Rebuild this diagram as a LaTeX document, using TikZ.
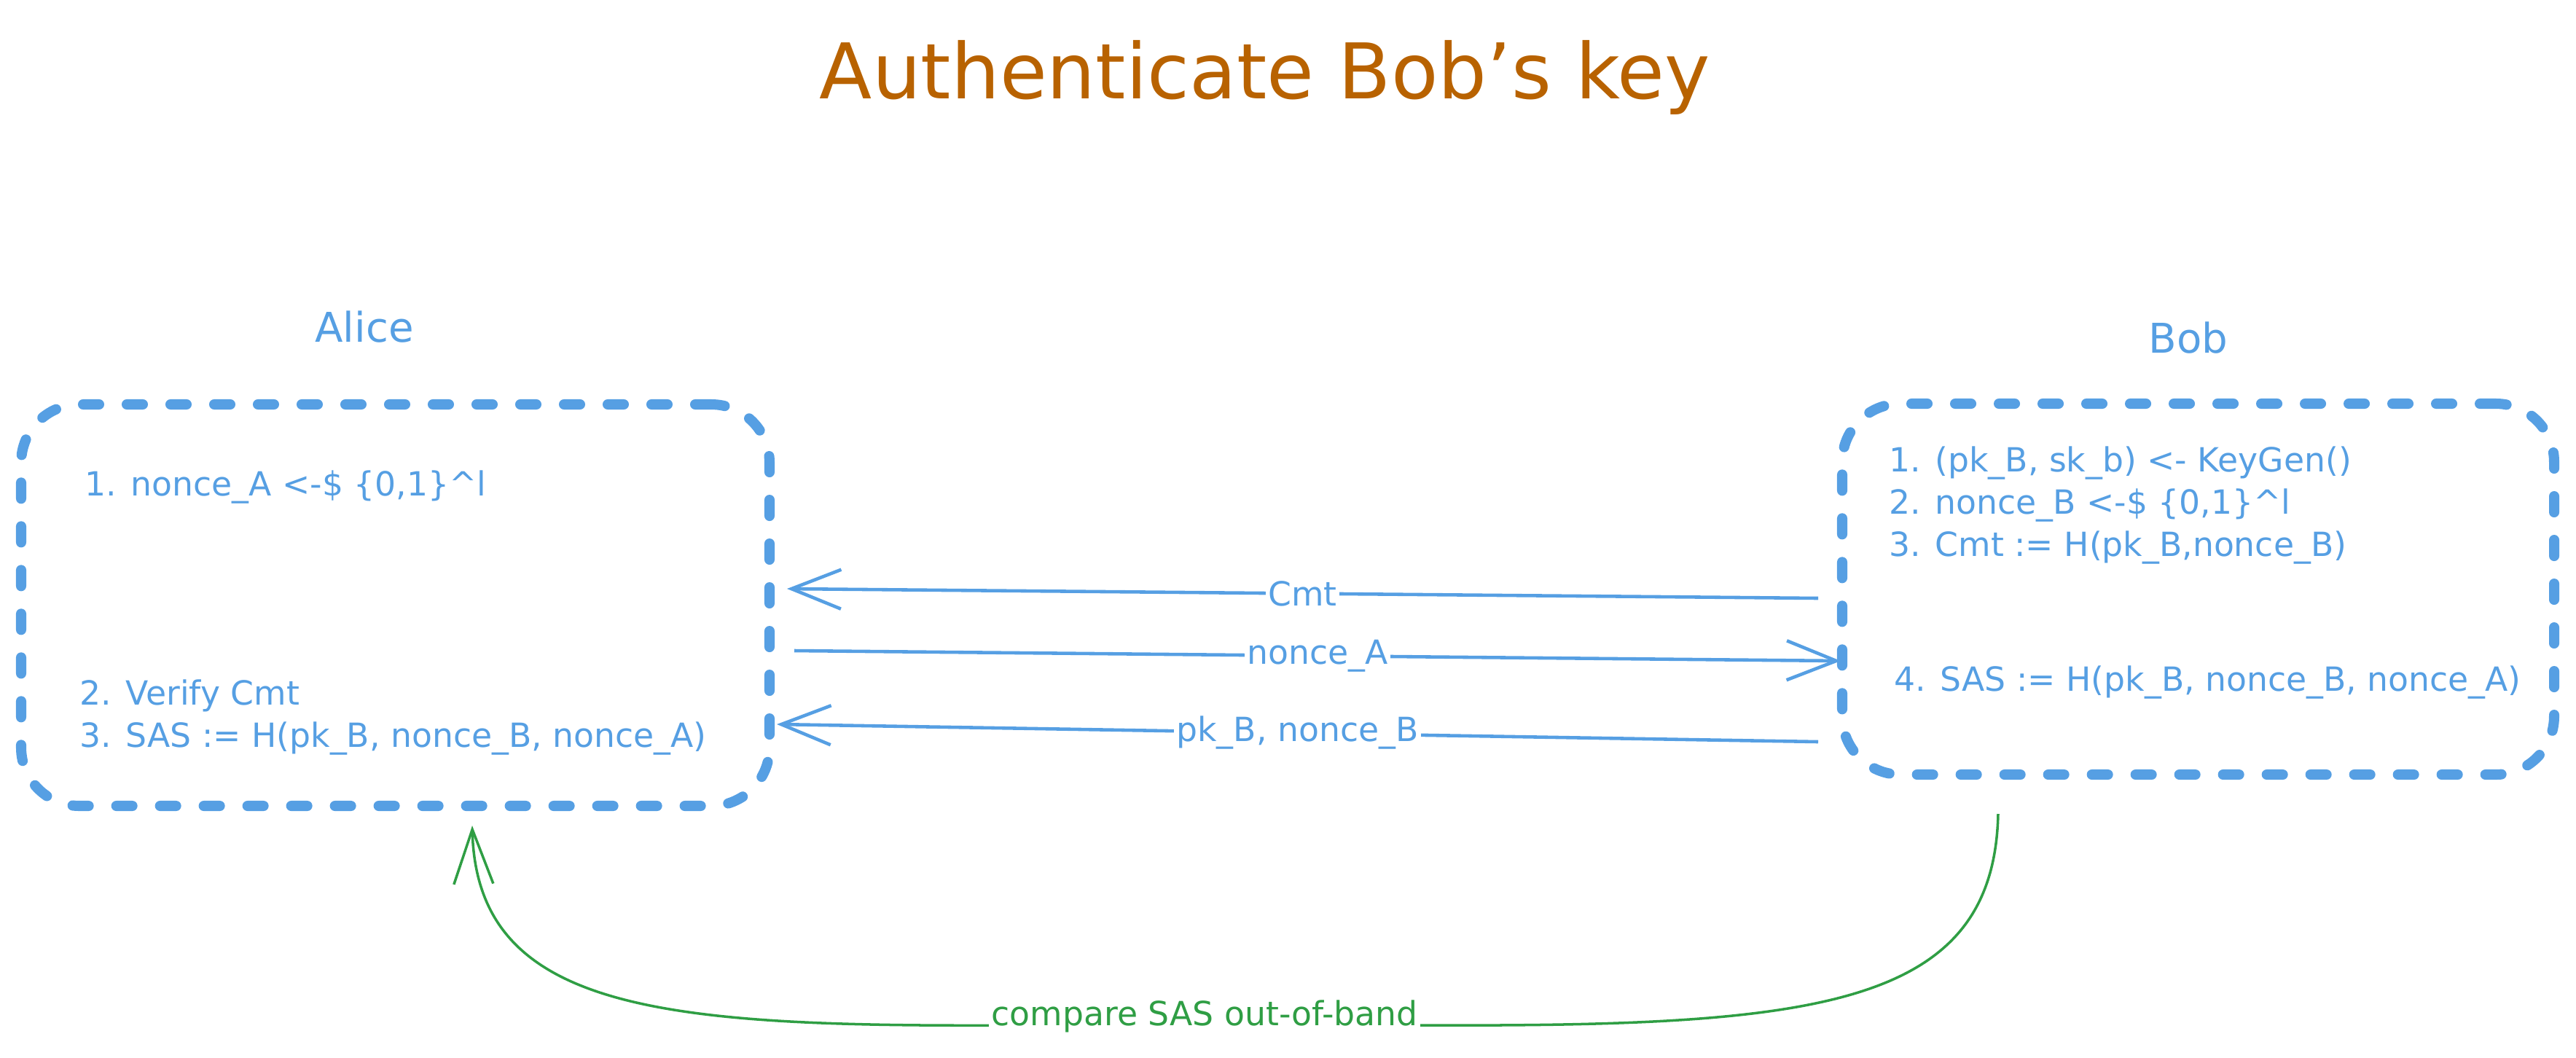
\documentclass[tikz,border=0pt]{standalone}
\usepackage{fontspec}
\setmainfont{DejaVu Sans}
\usetikzlibrary{arrows.meta}
\definecolor{bleu}{HTML}{569FE3}
\definecolor{vert}{HTML}{2F9E44}
\definecolor{brun}{HTML}{B86200}
\begin{document}
\begin{tikzpicture}
% Styles
\tikzstyle{cadre}=[draw=bleu,line width=4pt,dash pattern=on 2.2mm off 3.8mm,line cap=round,rounded corners=8mm,inner sep=0pt]
\tikzstyle{fleche}=[->,>={Straight Barb[length=6.8mm,width=5.4mm]},bleu,line width=1.3pt]
\tikzstyle{lien}=[->,>={Straight Barb[length=7.5mm,width=5.4mm]},vert,line width=1pt]
\tikzstyle{etiquette}=[fill=white,inner sep=1pt,font=\fontsize{13}{15}\selectfont]
\tikzstyle{ligne}=[anchor=base west,inner sep=0pt,text=bleu,font=\fontsize{13}{15}\selectfont]
\tikzstyle{nom}=[anchor=base,text=bleu,font=\fontsize{16}{19}\selectfont]
% Dimensions
\def\Lg{0.58}
\def\xA{1.16}
\def\xB{25.92}
% Cadre de la figure
\useasboundingbox (0,0) rectangle (35.35,-14.51);
% Titre
\node[anchor=base,text=brun,font=\fontsize{30}{36}\selectfont] (titre) at (17.36,-1.35) {Authenticate Bob's key};
% Alice
\node[nom] (alice) at (5.00,-4.69) {Alice};
\node[cadre,minimum width=10.27cm,minimum height=5.51cm] (boiteA) at (5.425,-8.305) {};
\node[ligne] (a1) at (\xA,-6.80) {1. nonce\_A <-\$ \{0,1\}\textasciicircum l};
\node[ligne] (a2) at (\xA-0.07,-9.67) {2. Verify Cmt};
\node[ligne] (a3) at (\xA-0.07,-9.67-\Lg) {3. SAS := H(pk\_B, nonce\_B, nonce\_A)};
% Bob
\node[nom] (bob) at (30.03,-4.84) {Bob};
\node[cadre,minimum width=9.77cm,minimum height=5.09cm] (boiteB) at (30.165,-8.085) {};
\node[ligne] (b1) at (\xB,-6.47) {1. (pk\_B, sk\_b) <- KeyGen()};
\node[ligne] (b2) at (\xB,-6.47-\Lg) {2. nonce\_B <-\$ \{0,1\}\textasciicircum l};
\node[ligne] (b3) at (\xB,-6.47-2*\Lg) {3. Cmt := H(pk\_B,nonce\_B)};
\node[ligne] (b4) at (\xB+0.07,-9.48) {4. SAS := H(pk\_B, nonce\_B, nonce\_A)};
% Messages
\coordinate (cmtB) at (24.95,-8.21);
\coordinate (cmtA) at (10.80,-8.08);
\coordinate (nA) at (10.90,-8.93);
\coordinate (nB) at (25.26,-9.07);
\coordinate (pkB) at (24.95,-10.18);
\coordinate (pkA) at (10.66,-9.94);
\draw[fleche] (cmtB) -- node[etiquette,text=bleu] (lcmt) {Cmt} (cmtA);
\draw[fleche] (nA) -- node[etiquette,text=bleu] (lnA) {nonce\_A} (nB);
\draw[fleche] (pkB) -- node[etiquette,text=bleu] (lpk) {pk\_B, nonce\_B} (pkA);
% Comparaison hors bande
\coordinate (sasB) at (27.42,-11.17);
\coordinate (sasM) at (16.53,-14.05);
\coordinate (sasA) at (6.48,-11.33);
\draw[lien] (sasB) .. controls (27.35,-14.3) and (24.0,-14.1) .. (sasM) node[etiquette,text=vert,yshift=1mm] (lsas) {compare SAS out-of-band} .. controls (10.0,-14.1) and (6.55,-14.3) .. (sasA);
\end{tikzpicture}
\end{document}
